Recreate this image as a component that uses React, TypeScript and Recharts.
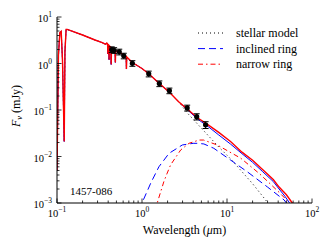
import React from 'react';
import { ComposedChart, Line, Scatter, XAxis, YAxis, ErrorBar } from 'recharts';

// wavelength (um), flux (mJy)
const starSpectrum: [number, number][] = [
  [0.1, 0.005], [0.104, 1.5], [0.108, 4.6], [0.112, 4.9], [0.116, 1.2], [0.1216, 0.021],
  [0.124, 1.8], [0.128, 5.4], [0.132, 5.4], [0.2, 4.1], [0.28, 3.2], [0.341, 2.8],
  [0.37, 2.6], [0.385, 2.75], [0.394, 2.5], [0.397, 1.6], [0.4, 2.55], [0.407, 2.45],
  [0.41, 1.2], [0.413, 2.4], [0.43, 2.2], [0.434, 0.95], [0.438, 2.1], [0.482, 1.92],
  [0.486, 1.05], [0.49, 1.9], [0.55, 1.72], [0.62, 1.5], [0.651, 1.4], [0.656, 0.76],
  [0.661, 1.38], [0.77, 1.05], [1.0, 0.78], [1.2, 0.6], [1.6, 0.37], [2.1, 0.24], [2.7, 0.15],
];
const starTail: [number, number][] = [
  [3.4, 0.087], [5.1, 0.039], [8, 0.016], [11.1, 0.0088], [20, 0.0026], [29.5, 0.00107], [35, 0.00075],
];
const inclinedTotalTail: [number, number][] = [
  [3.4, 0.102], [4.5, 0.064], [6, 0.044], [8, 0.029], [11, 0.0185], [15, 0.0115],
  [20, 0.0075], [26, 0.0048], [35, 0.0029], [41, 0.002], [48, 0.0014], [54.5, 0.001], [60, 0.0007],
];
const narrowTotalTail: [number, number][] = [
  [3.4, 0.105], [4.5, 0.068], [6, 0.048], [8, 0.033], [11, 0.021], [15, 0.0124],
  [20, 0.0083], [26, 0.0053], [35, 0.0032], [41, 0.0022], [50, 0.0015], [58.6, 0.001], [65, 0.0008],
];
const inclinedRing: [number, number][] = [
  [0.95, 0.0007], [1.0, 0.001], [1.27, 0.0027], [1.58, 0.006], [2.08, 0.0117], [2.98, 0.0177],
  [4.0, 0.0192], [4.5, 0.0192], [5.35, 0.0186], [7.0, 0.015], [11, 0.0084], [17.3, 0.0047],
  [30, 0.0022], [47, 0.00116], [55, 0.0008],
];
const narrowRing: [number, number][] = [
  [1.45, 0.0007], [1.51, 0.001], [1.66, 0.00175], [1.81, 0.0029], [1.98, 0.0044], [2.17, 0.0066],
  [2.85, 0.0138], [3.57, 0.0192], [4.69, 0.0226], [5.3, 0.0226], [7.67, 0.0177], [14.5, 0.0092],
  [24, 0.0043], [41, 0.0017], [56, 0.00095], [62, 0.0008],
];

// photometry
const photWave = [0.44, 0.47, 0.54, 0.61, 0.77, 1.2, 1.6, 2.1, 3.4, 4.4, 5.6];
const photFlux = [2.0, 1.92, 1.78, 1.46, 1.01, 0.6, 0.37, 0.26, 0.111, 0.072, 0.048];
const photErr = [0.28, 0.27, 0.25, 0.2, 0.14, 0.085, 0.052, 0.036, 0.016, 0.011, 0.008];

const xTicks = [
  0.1, 0.2, 0.3, 0.4, 0.5, 0.6, 0.7, 0.8, 0.9, 1, 2, 3, 4, 5, 6, 7, 8, 9,
  10, 20, 30, 40, 50, 60, 70, 80, 90, 100,
];
const yTicks = [
  0.001, 0.002, 0.003, 0.004, 0.005, 0.006, 0.007, 0.008, 0.009,
  0.01, 0.02, 0.03, 0.04, 0.05, 0.06, 0.07, 0.08, 0.09,
  0.1, 0.2, 0.3, 0.4, 0.5, 0.6, 0.7, 0.8, 0.9,
  1, 2, 3, 4, 5, 6, 7, 8, 9, 10,
];

const legendItems = [
  { name: 'stellar model', color: '#000', dash: '1 3' },
  { name: 'inclined ring', color: '#0000ff', dash: '7 4' },
  { name: 'narrow ring', color: '#ff0000', dash: '5 3 1.5 3' },
];

const FONT = "'Liberation Serif', 'DejaVu Serif', serif";
const TOP = 17, BOTTOM = 203, LEFT = 57, RIGHT = 312;

const toXY = (a: [number, number][]) => a.map(([x, y]) => ({ x, y }));
const isMajor = (v: number) => Math.abs(Math.log10(v) - Math.round(Math.log10(v))) < 1e-6;
const expText = (v: number) => {
  const e = Math.round(Math.log10(v));
  return e < 0 ? '\u2212' + -e : String(e);
};

const Pow = (props: { x: number; y: number; v: number; anchor: string }) => (
  <text x={props.x} y={props.y} textAnchor={props.anchor} style={{ fontFamily: FONT }} fontSize={10.5} fill="#000">
    <tspan>10</tspan>
    <tspan dy={-5} fontSize={7.5}>{expText(props.v)}</tspan>
  </text>
);

const bottomTick = (p: any) => {
  const v = p.payload.value;
  const m = isMajor(v);
  return (
    <g>
      <line x1={p.x} x2={p.x} y1={BOTTOM} y2={BOTTOM - (m ? 4.5 : 2.5)} stroke="#000" strokeWidth={0.8} />
      {m && <Pow x={p.x} y={BOTTOM + 14} v={v} anchor="middle" />}
    </g>
  );
};
const topTick = (p: any) => {
  const m = isMajor(p.payload.value);
  return <line x1={p.x} x2={p.x} y1={TOP} y2={TOP + (m ? 4.5 : 2.5)} stroke="#000" strokeWidth={0.8} />;
};
const leftTick = (p: any) => {
  const v = p.payload.value;
  const m = isMajor(v);
  return (
    <g>
      <line x1={LEFT} x2={LEFT + (m ? 4.5 : 2.5)} y1={p.y} y2={p.y} stroke="#000" strokeWidth={0.8} />
      {m && <Pow x={LEFT - 5} y={p.y + 5} v={v} anchor="end" />}
    </g>
  );
};
const rightTick = (p: any) => {
  const m = isMajor(p.payload.value);
  return <line x1={RIGHT} x2={RIGHT - (m ? 4.5 : 2.5)} y1={p.y} y2={p.y} stroke="#000" strokeWidth={0.8} />;
};

export default function App() {
  const stellar = toXY([...starSpectrum, ...starTail]);
  const inclinedTotal = toXY([...starSpectrum, ...inclinedTotalTail]);
  const narrowTotal = toXY([...starSpectrum, ...narrowTotalTail]);
  const phot = photWave.map((x, i) => ({ x, y: photFlux[i], err: photErr[i] }));

  const axisCommon = {
    type: 'number' as const,
    scale: 'log' as const,
    allowDataOverflow: true,
    interval: 0 as const,
    tickLine: false,
    tickSize: 0,
    tickMargin: 0,
    axisLine: { stroke: '#000', strokeWidth: 1 },
  };

  return (
    <div style={{ position: 'absolute', left: 0, top: 0, width: 330, height: 250, background: '#fff' }}>
      <ComposedChart width={330} height={250} margin={{ top: 17, right: 18, bottom: 0, left: 0 }}>
        <XAxis xAxisId="b" dataKey="x" {...axisCommon} domain={[0.1, 100]} ticks={xTicks} height={47} tick={bottomTick} />
        <XAxis xAxisId="t" dataKey="x" orientation="top" {...axisCommon} domain={[0.1, 100]} ticks={xTicks} height={0} tick={topTick} />
        <YAxis yAxisId="l" dataKey="y" {...axisCommon} domain={[0.001, 10]} ticks={yTicks} width={57} tick={leftTick} />
        <YAxis yAxisId="r" dataKey="y" orientation="right" {...axisCommon} domain={[0.001, 10]} ticks={yTicks} width={0} tick={rightTick} />

        <Line xAxisId="b" yAxisId="l" data={stellar} dataKey="y" stroke="#000" strokeWidth={1} strokeDasharray="1 3" dot={false} activeDot={false} isAnimationActive={false} />
        <Line xAxisId="b" yAxisId="l" data={toXY(inclinedRing)} dataKey="y" stroke="#0000ff" strokeWidth={1} strokeDasharray="7 4" dot={false} activeDot={false} isAnimationActive={false} />
        <Line xAxisId="b" yAxisId="l" data={toXY(narrowRing)} dataKey="y" stroke="#ff0000" strokeWidth={1} strokeDasharray="5 3 1.5 3" dot={false} activeDot={false} isAnimationActive={false} />
        <Line xAxisId="b" yAxisId="l" data={inclinedTotal} dataKey="y" stroke="#0000ff" strokeWidth={1} dot={false} activeDot={false} isAnimationActive={false} />
        <Line xAxisId="b" yAxisId="l" data={narrowTotal} dataKey="y" stroke="#ff0000" strokeWidth={1.4} dot={false} activeDot={false} isAnimationActive={false} />

        <Scatter xAxisId="b" yAxisId="l" data={phot} dataKey="y" isAnimationActive={false}
          shape={(p: any) => <circle cx={p.cx} cy={p.cy} r={2.6} fill="#000" />}>
          <ErrorBar dataKey="err" direction="y" width={3} stroke="#000" strokeWidth={1} isAnimationActive={false} />
        </Scatter>
      </ComposedChart>

      <svg width={330} height={250} style={{ position: 'absolute', left: 0, top: 0, pointerEvents: 'none', fontFamily: FONT }}>
        {legendItems.map((it, i) => (
          <g key={it.name}>
            <line x1={198} x2={223} y1={33 + i * 15.6} y2={33 + i * 15.6} stroke={it.color} strokeWidth={1} strokeDasharray={it.dash} />
            <text x={236} y={37 + i * 15.6} fontSize={12} fill="#000">{it.name}</text>
          </g>
        ))}
        <text x={70} y={195} fontSize={11} fill="#000">1457-086</text>
        <text x={184.5} y={234} textAnchor="middle" fontSize={12} fill="#000">
          Wavelength (<tspan fontStyle="italic">μ</tspan>m)
        </text>
        <text x={19.5} y={106} textAnchor="middle" transform="rotate(-90 19.5 106)" fontSize={12} fill="#000">
          <tspan fontStyle="italic">F</tspan>
          <tspan fontStyle="italic" fontSize={8.5} dy={2.5}>ν</tspan>
          <tspan dy={-2.5}> (mJy)</tspan>
        </text>
      </svg>
    </div>
  );
}
